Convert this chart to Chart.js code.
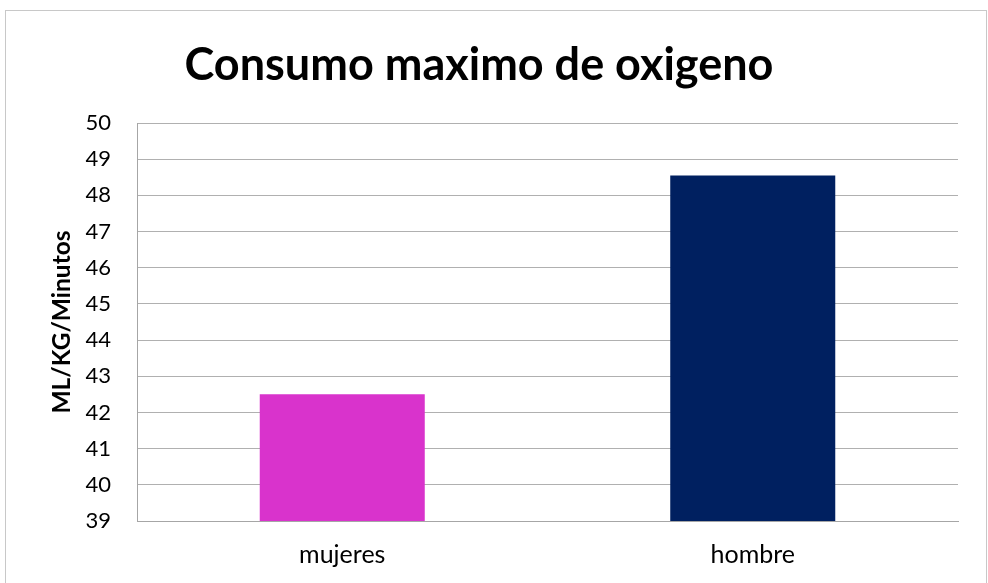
<!DOCTYPE html>
<html>
<head>
<meta charset="utf-8">
<script src="https://cdn.jsdelivr.net/npm/chart.js@4"></script>
<style>
  html, body { margin: 0; padding: 0; background: #fff; }
  #wrap { position: absolute; left: 0; top: 0; width: 988px; height: 583px; }
</style>
</head>
<body>
<div id="wrap"><canvas id="vo2Chart"></canvas></div>
<script>
const categories = ["mujeres", "hombre"];
const consumo = [42.5, 48.55];
const barColors = ["#D933CC", "#002060"];
const yMin = 39;
const yMax = 50;

const FONT = "Lato, 'Open Sans', sans-serif";

// light frame around the chart
const frame = {
  id: 'frame',
  beforeDraw(chart) {
    const c = chart.ctx;
    c.save();
    c.strokeStyle = '#c8c8c8';
    c.lineWidth = 1;
    c.strokeRect(5.5, 10.5, 981, 600);
    c.restore();
  }
};

const ctx = document.getElementById("vo2Chart");
new Chart(ctx, {
  type: 'bar',
  data: {
    labels: categories,
    datasets: [{
      data: consumo,
      backgroundColor: barColors,
      borderWidth: 0,
      barPercentage: 0.402,
      categoryPercentage: 1
    }]
  },
  options: {
    responsive: true,
    maintainAspectRatio: false,
    animation: false,
    layout: { padding: { left: 0, right: 30, top: 0, bottom: 0 } },
    plugins: {
      legend: { display: false },
      tooltip: { enabled: false },
      title: {
        display: true,
        text: 'Consumo maximo de oxigeno',
        color: '#000',
        font: { family: FONT, size: 45, weight: 'bold' },
        padding: { top: 38, bottom: 31 }
      }
    },
    scales: {
      x: {
        grid: { display: false, drawTicks: false },
        border: { color: '#a6a6a6' },
        ticks: { color: '#000', font: { family: FONT, size: 25 }, padding: 19 },
        afterFit(scale) { scale.height = 62; }
      },
      y: {
        min: yMin,
        max: yMax,
        grid: { color: '#b0b0b0', drawTicks: false },
        border: { color: '#a6a6a6' },
        ticks: { stepSize: 1, color: '#000', font: { family: FONT, size: 22 }, padding: 26 },
        title: {
          display: true,
          text: 'ML/KG/Minutos',
          color: '#000',
          font: { family: FONT, size: 24.5, weight: 'bold' },
          padding: { top: 47, bottom: 0 }
        },
        afterFit(scale) { scale.width = 137; }
      }
    }
  },
  plugins: [frame]
});
</script>
</body>
</html>
